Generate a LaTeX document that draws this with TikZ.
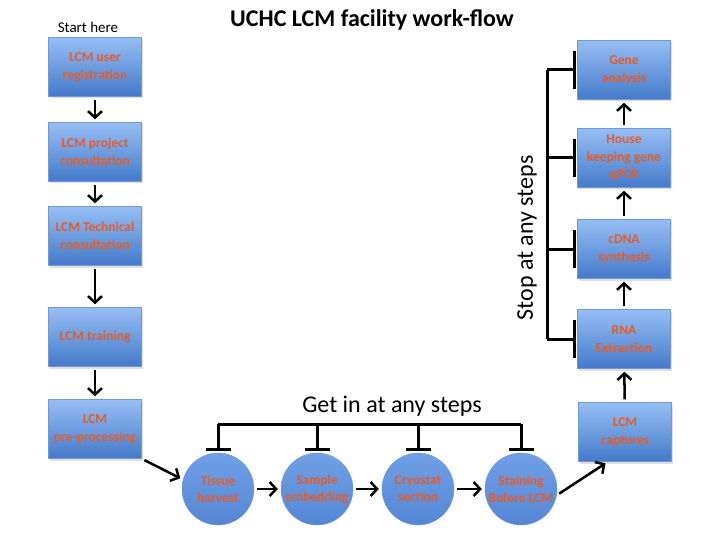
\documentclass[tikz,border=0pt]{standalone}
\usepackage{fontspec}
\setmainfont{Carlito}
\usepackage{xcolor}
\usetikzlibrary{arrows.meta,shadows}
\definecolor{boxtop}{RGB}{150,190,244}
\definecolor{boxbot}{RGB}{68,122,202}
\definecolor{boxedge}{RGB}{112,152,212}
\definecolor{circtop}{RGB}{112,160,230}
\definecolor{circbot}{RGB}{84,134,212}
\definecolor{steptext}{RGB}{230,92,40}

\begin{document}
\begin{tikzpicture}[x=1pt, y=-1pt,
	stepbox/.style={draw=boxedge, top color=boxtop, bottom color=boxbot, drop shadow={opacity=0.25, shadow xshift=1pt, shadow yshift=-2pt}, minimum width=93pt, minimum height=59pt, inner sep=1pt, align=center, text=steptext, font=\bfseries\fontsize{13.5}{17.5}\selectfont},
	stepcirc/.style={circle, draw=boxedge, top color=circtop, bottom color=circbot, minimum size=72pt, inner sep=0pt, align=center, text=steptext, font=\bfseries\fontsize{13.5}{17}\selectfont},
	flow/.style={line width=2.5pt, -{Straight Barb[length=6.5pt, width=14pt]}, shorten <=3pt, shorten >=3pt},
	bus/.style={line width=3pt},
	entry/.style={line width=3pt, -{Bar[width=25pt]}, shorten >=2pt},
	exit/.style={line width=3pt, -{Bar[width=38pt]}, shorten >=1pt}]
\useasboundingbox (0,0) rectangle (720,540);
\node[font=\bfseries\fontsize{24}{28}\selectfont] (title) at (372,20) {UCHC LCM facility work-flow};
\node[font=\fontsize{15}{18}\selectfont] (start) at (88,27) {Start here};
\node[stepbox] (reg) at (95,67) {LCM user\\registration};
\node[stepbox] (consult) at (95,152) {LCM project\\consultation};
\node[stepbox] (tech) at (95,236) {LCM Technical\\consultation};
\node[stepbox] (train) at (95,337) {LCM training};
\node[stepbox] (pre) at (95,429) {LCM\\pre-processing};
\node[stepcirc] (tissue) at (218,489) {Tissue\\harvest};
\node[stepcirc] (embed) at (317,489) {Sample\\embedding};
\node[stepcirc] (cryo) at (418,489) {Cryostat\\section};
\node[stepcirc] (stain) at (521,489) {Staining\\Before LCM};
\node[stepbox] (capture) at (625,432) {LCM\\captures};
\node[stepbox] (rna) at (624,339) {RNA\\Extraction};
\node[stepbox] (cdna) at (624,249) {cDNA\\synthesis};
\node[stepbox] (house) at (624,158) {House\\keeping gene\\qPCR};
\node[stepbox] (gene) at (624,70) {Gene\\analysis};
\node[font=\fontsize{24}{28}\selectfont] (getin) at (392,406) {Get in at any steps};
\node[font=\fontsize{24}{28}\selectfont, rotate=90] (stop) at (527,238) {Stop at any steps};
\coordinate (inL) at (218,424);
\coordinate (inR) at (521,424);
\coordinate (outT) at (547,70);
\coordinate (outB) at (547,339);
\draw[flow] (reg) -- (consult);
\draw[flow] (consult) -- (tech);
\draw[flow] (tech) -- (train);
\draw[flow] (train) -- (pre);
\draw[flow] (pre.south east) -- (tissue.165);
\draw[flow] (tissue) -- (embed);
\draw[flow] (embed) -- (cryo);
\draw[flow] (cryo) -- (stain);
\draw[flow] (stain.-10) -- (capture.south west -| 608,0);
\draw[flow] (capture) -- (rna);
\draw[flow] (rna) -- (cdna);
\draw[flow] (cdna) -- (house);
\draw[flow] (house) -- (gene);
\draw[bus] (inL) -- (inR);
\draw[entry] (inL) -- (tissue.north);
\draw[entry] (inL -| embed) -- (embed.north);
\draw[entry] (inL -| cryo) -- (cryo.north);
\draw[entry] (inR) -- (stain.north);
\draw[bus] (outT) -- (outB);
\draw[exit] (outT) -- (gene.west);
\draw[exit] (outT |- house) -- (house.west);
\draw[exit] (outT |- cdna) -- (cdna.west);
\draw[exit] (outB) -- (rna.west);
\end{tikzpicture}
\end{document}
